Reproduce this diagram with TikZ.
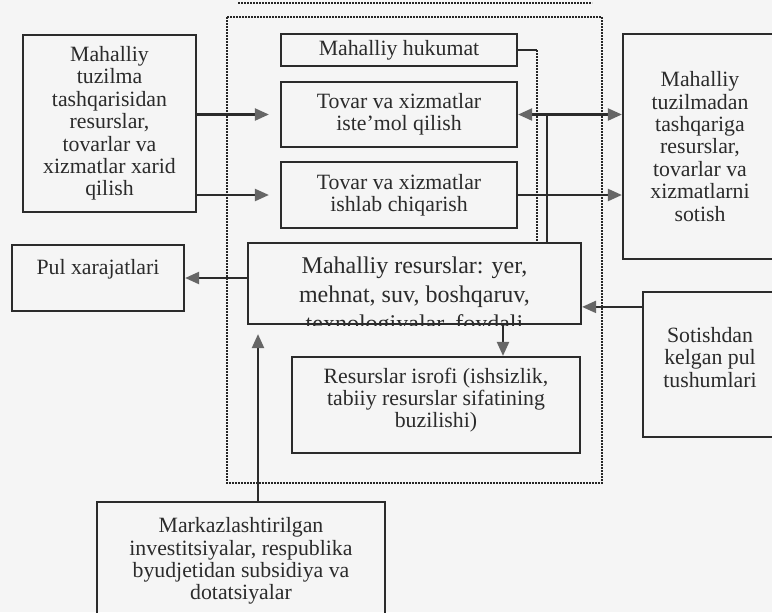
\documentclass[tikz,border=0pt]{standalone}
\usepackage{fontspec}
\setmainfont{Liberation Serif}
\usetikzlibrary{arrows.meta}
\usetikzlibrary{calc}

\definecolor{ink}{HTML}{2B2B2B}
\definecolor{tip}{HTML}{666666}

\begin{document}
\begin{tikzpicture}[x=0.5pt, y=-0.5pt,
  box/.style={draw=ink, line width=1.1pt, inner sep=0pt, align=center, text=ink,
              font=\fontsize{10.9}{11.2}\selectfont},
  arr/.style={draw=ink, line width=1.1pt, -{Triangle[length=7pt, width=6pt, color=tip]}},
  dots/.style={draw=black!85, line width=1.3pt, dash pattern=on 0.8pt off 0.7pt}]

  \useasboundingbox[fill=black!4] (0,0) rectangle (772,612);
  \clip (0,0) rectangle (772,612);

  % local frame
  \draw[dots] (227,17) rectangle (602,483);
  \draw[dots] (238,3) -- (592,3);

  \node[box, minimum width=86.5pt, minimum height=88.5pt] (nIn) at (109.5,123.5)
    {Mahalliy\\ tuzilma\\ tashqarisidan\\ resurslar,\\ tovarlar va\\ xizmatlar xarid\\ qilish};
  \node[box, minimum width=118pt, minimum height=16pt] (nGov) at (399,50) {Mahalliy hukumat};
  \node[box, minimum width=118pt, minimum height=32.5pt] (nUse) at (399,114.5)
    {Tovar va xizmatlar\\ iste'mol qilish};
  \node[box, minimum width=118pt, minimum height=33pt] (nMake) at (399,195)
    {Tovar va xizmatlar\\ ishlab chiqarish};
  \node[box, minimum width=77pt, minimum height=112.5pt] (nOut) at (700,146.5)
    {Mahalliy\\ tuzilmadan\\ tashqariga\\ resurslar,\\ tovarlar va\\ xizmatlarni\\ sotish};
  \node[box, minimum width=86pt, minimum height=33pt] (nPay) at (98,278) {Pul xarajatlari\\ \mbox{}};

  \node[box, minimum width=166.5pt, minimum height=40.5pt] (nRes) at (414.5,283.5) {};
  \begin{scope}
    \clip (nRes.north west) rectangle (nRes.south east);
    \node[anchor=north, inner sep=0pt, align=center, text=ink,
          font=\fontsize{12}{14.5}\selectfont] (nResTxt) at (414.5,256)
      {Mahalliy resurslar: yer,\\ mehnat, suv, boshqaruv,\\ texnologiyalar, foydali};
  \end{scope}

  \node[box, minimum width=144pt, minimum height=48pt] (nLoss) at (436,405)
    {Resurslar isrofi (ishsizlik,\\ tabiiy resurslar sifatining\\ buzilishi)\\[-4pt] \mbox{}};
  \node[box, minimum width=67pt, minimum height=72.5pt] (nSale) at (710,364.5)
    {Sotishdan\\ kelgan pul\\ tushumlari\\[-4pt] \mbox{}};
  \node[box, minimum width=144pt, minimum height=59pt] (nInv) at (241,561)
    {Markazlashtirilgan\\ investitsiyalar, respublika\\ byudjetidan subsidiya va\\ dotatsiyalar};

  \coordinate (cBus) at (547,0);
  \coordinate (cGov) at (537,0);
  \coordinate (cLoss) at (503,0);
  \coordinate (cInv) at (258,0);
  \coordinate (cCash) at ($(nSale.north west)+(0,16)$);

  \draw[arr, shorten >=5.5pt] (nIn.east |- nUse) -- (nUse.west);
  \draw[arr, shorten >=5.5pt] (nIn.east |- nMake) -- (nMake.west);
  \draw[arr] (nRes.north -| cBus) |- (nUse.east);
  \draw[arr] (cBus |- nUse) -- (nOut.west |- nUse);
  \draw[arr] (nMake.east) -- (nOut.west |- nMake);
  \draw[ink, line width=1.1pt] (nGov.east) -- (nGov.east -| cGov);
  \draw[dots] (nGov.east -| cGov) -- (nRes.north -| cGov);
  \draw[arr] (nRes.west |- nPay) -- (nPay.east);
  \draw[arr] (cCash) -- (nRes.east |- cCash);
  \draw[arr] (nRes.south -| cLoss) -- (nLoss.north -| cLoss);
  \draw[arr, shorten >=4.5pt] (nInv.north -| cInv) -- (nRes.south -| cInv);

\end{tikzpicture}
\end{document}
